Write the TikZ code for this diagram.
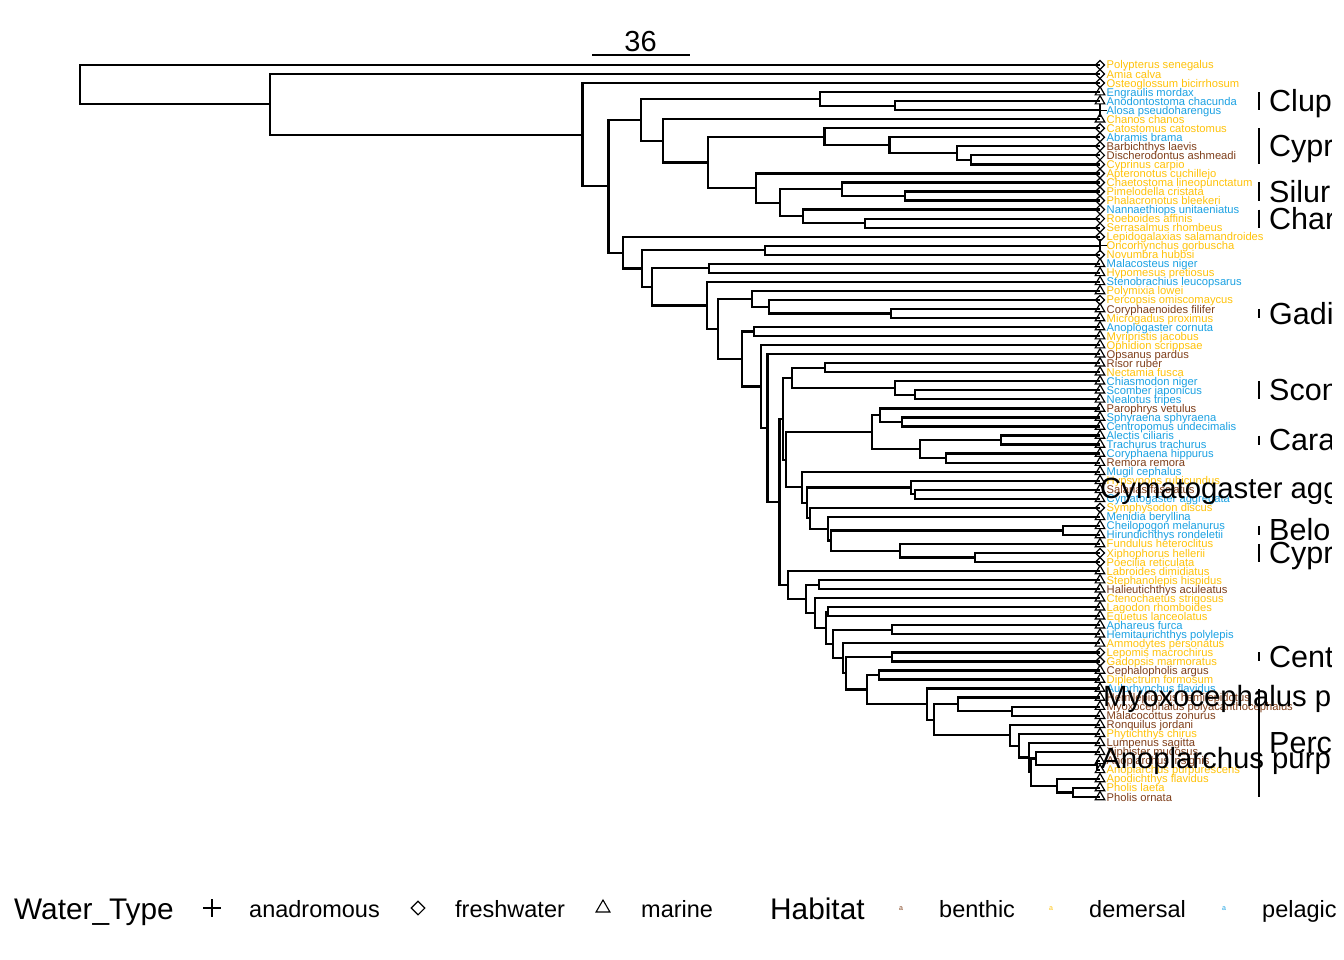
\documentclass[tikz,border=0pt]{standalone}
\usepackage{fontspec}
\setmainfont{Liberation Sans}
\usetikzlibrary{calc,shapes.geometric,shapes.misc}
\definecolor{benthic}{HTML}{7F3F1A}
\definecolor{demersal}{HTML}{FFC20A}
\definecolor{pelagic}{HTML}{1BA1E2}
\newcommand\fsz[1]{\fontsize{#1}{#1}\selectfont}
\newcommand\inode[4]{\path let \p1=($(#3)!0.5!(#4)$) in (#2pt,\y1) coordinate (#1);\draw[branch] (#3) -| (#1) |- (#4);}
\begin{document}
\begin{tikzpicture}[x=1pt,y=-1pt,
  branch/.style={line width=2.2pt, line join=miter},
  tipsym/.style={draw, line width=1.2pt, inner sep=0pt, fill=none},
  mar/.style={tipsym, regular polygon, regular polygon sides=3, minimum size=11pt},
  fw/.style={tipsym, diamond, minimum width=9.5pt, minimum height=9.5pt},
  ana/.style={tipsym, cross out, rotate=45, minimum size=8pt},
  tiplab/.style={anchor=base west, inner sep=0pt, font=\fsz{11.2}},
  bigtxt/.style={anchor=base west, inner sep=0pt, font=\fsz{29.3}},
  cladetxt/.style={anchor=base west, inner sep=0pt, font=\fsz{30.5}},
  cbar/.style={line width=2.6pt},
  legtitle/.style={anchor=base west, inner sep=0pt, font=\fsz{29.8}},
  leglab/.style={anchor=base west, inner sep=0pt, font=\fsz{23.5}},
  legkey/.style={inner sep=0pt, font=\fsz{7}}]
\useasboundingbox (0,0) rectangle (1344,960);
% tips
\foreach \i in {1,...,82} {\coordinate (t\i) at (1100,{65+(\i-1)*9.037});}
% internal nodes
\inode{n56}{895.3}{t5}{t6}
\inode{n46}{820}{t4}{n56}
\inode{n1112}{970.7}{t11}{t12}
\inode{n1012}{956.8}{t10}{n1112}
\inode{n912}{889.4}{t9}{n1012}
\inode{n812}{824.4}{t8}{n912}
\inode{n1516}{904.6}{t15}{t16}
\inode{n1416}{841.7}{t14}{n1516}
\inode{n1819}{864.9}{t18}{t19}
\inode{n1719}{803}{t17}{n1819}
\inode{n1419}{779.8}{n1416}{n1719}
\inode{n1319}{756.3}{t13}{n1419}
\inode{n819}{708}{n812}{n1319}
\inode{n719}{662.7}{t7}{n819}
\inode{n419}{641.2}{n46}{n719}
\inode{n2122}{764.6}{t21}{t22}
\inode{n2324}{709.3}{t23}{t24}
\inode{n2829}{890.7}{t28}{t29}
\inode{n2729}{769.3}{t27}{n2829}
\inode{n2629}{752.3}{t26}{n2729}
\inode{n3031}{754.3}{t30}{t31}
\inode{n3435}{825}{t34}{t35}
\inode{n3738}{915}{t37}{t38}
\inode{n3638}{895}{t36}{n3738}
\inode{n3438}{791.7}{n3435}{n3638}
\inode{n4041}{901.7}{t40}{t41}
\inode{n3941}{880}{t39}{n4041}
\inode{n4243}{1001}{t42}{t43}
\inode{n4445}{946}{t44}{t45}
\inode{n4245}{920}{n4243}{n4445}
\inode{n3945}{871.7}{n3941}{n4245}
\inode{n4849}{915}{t48}{t49}
\inode{n4749}{910.7}{t47}{n4849}
\inode{n5253}{1063.3}{t52}{t53}
\inode{n5556}{975}{t55}{t56}
\inode{n5456}{900}{t54}{n5556}
\inode{n5256}{830.7}{n5253}{n5456}
\inode{n5156}{827.7}{t51}{n5256}
\inode{n5056}{810}{t50}{n5156}
\inode{n4756}{806.7}{n4749}{n5056}
\inode{n4656}{801.7}{t46}{n4756}
\inode{n3956}{786}{n3945}{n4656}
\inode{n3456}{783}{n3438}{n3956}
\inode{n5859}{819.3}{t58}{t59}
\inode{n6162}{828.3}{t61}{t62}
\inode{n6364}{891.7}{t63}{t64}
\inode{n6667}{891.7}{t66}{t67}
\inode{n6869}{879.3}{t68}{t69}
\inode{n7273}{1011.7}{t72}{t73}
\inode{n7173}{957.7}{t71}{n7273}
\inode{n8182}{1072.7}{t81}{t82}
\inode{n8082}{1056.7}{t80}{n8182}
\inode{n7879}{1096.7}{t78}{t79}
\inode{n7779}{1036}{t77}{n7879}
\inode{n7782}{1031}{n7779}{n8082}
\inode{n7682}{1029.3}{t76}{n7782}
\inode{n7582}{1019}{t75}{n7682}
\inode{n7482}{1010}{t74}{n7582}
\inode{n7182}{934.3}{n7173}{n7482}
\inode{n7082}{926.7}{t70}{n7182}
\inode{n6882}{866.7}{n6869}{n7082}
\inode{n6682}{845.7}{n6667}{n6882}
\inode{n6582}{842.7}{t65}{n6682}
\inode{n6382}{833.3}{n6364}{n6582}
\inode{n6182}{826}{n6162}{n6382}
\inode{n6082}{815}{t60}{n6182}
\inode{n5882}{806}{n5859}{n6082}
\inode{n5782}{788.3}{t57}{n5882}
\inode{n3482}{779.5}{n3456}{n5782}
\inode{n3382}{767.5}{t33}{n3482}
\inode{n3282}{761}{t32}{n3382}
\inode{n3082}{741.7}{n3031}{n3282}
\inode{n2682}{718.3}{n2629}{n3082}
\inode{n2582}{706.7}{t25}{n2682}
\inode{n2382}{651.7}{n2324}{n2582}
\inode{n2182}{641.7}{n2122}{n2382}
\inode{n2082}{623.3}{t20}{n2182}
\inode{n482}{608.4}{n419}{n2082}
\inode{n382}{582.5}{t3}{n482}
\inode{n282}{270}{t2}{n382}
\inode{root}{80}{t1}{n282}
% tip symbols and labels
\foreach \i/\nm/\c/\w in {
1/Polypterus senegalus/demersal/fw,
2/Amia calva/demersal/fw,
3/Osteoglossum bicirrhosum/demersal/fw,
4/Engraulis mordax/pelagic/mar,
5/Anodontostoma chacunda/pelagic/mar,
6/Alosa pseudoharengus/pelagic/ana,
7/Chanos chanos/demersal/mar,
8/Catostomus catostomus/demersal/fw,
9/Abramis brama/pelagic/fw,
10/Barbichthys laevis/benthic/fw,
11/Discherodontus ashmeadi/benthic/fw,
12/Cyprinus carpio/demersal/fw,
13/Apteronotus cuchillejo/demersal/fw,
14/Chaetostoma lineopunctatum/demersal/fw,
15/Pimelodella cristata/demersal/fw,
16/Phalacronotus bleekeri/demersal/fw,
17/Nannaethiops unitaeniatus/pelagic/fw,
18/Roeboides affinis/demersal/fw,
19/Serrasalmus rhombeus/demersal/fw,
20/Lepidogalaxias salamandroides/demersal/fw,
21/Oncorhynchus gorbuscha/demersal/ana,
22/Novumbra hubbsi/demersal/fw,
23/Malacosteus niger/pelagic/mar,
24/Hypomesus pretiosus/demersal/mar,
25/Stenobrachius leucopsarus/pelagic/mar,
26/Polymixia lowei/demersal/mar,
27/Percopsis omiscomaycus/demersal/fw,
28/Coryphaenoides filifer/benthic/mar,
29/Microgadus proximus/demersal/mar,
30/Anoplogaster cornuta/pelagic/mar,
31/Myripristis jacobus/demersal/mar,
32/Ophidion scrippsae/demersal/mar,
33/Opsanus pardus/benthic/mar,
34/Risor ruber/benthic/mar,
35/Nectamia fusca/demersal/mar,
36/Chiasmodon niger/pelagic/mar,
37/Scomber japonicus/pelagic/mar,
38/Nealotus tripes/pelagic/mar,
39/Parophrys vetulus/benthic/mar,
40/Sphyraena sphyraena/pelagic/mar,
41/Centropomus undecimalis/pelagic/mar,
42/Alectis ciliaris/pelagic/mar,
43/Trachurus trachurus/pelagic/mar,
44/Coryphaena hippurus/pelagic/mar,
45/Remora remora/benthic/mar,
46/Mugil cephalus/pelagic/mar,
47/Hypsypops rubicundus/demersal/mar,
48/Salarias fasciatus/benthic/mar,
49/Cymatogaster aggregata/pelagic/mar,
50/Symphysodon discus/demersal/fw,
51/Menidia beryllina/pelagic/mar,
52/Cheilopogon melanurus/pelagic/mar,
53/Hirundichthys rondeletii/pelagic/mar,
54/Fundulus heteroclitus/demersal/mar,
55/Xiphophorus hellerii/demersal/fw,
56/Poecilia reticulata/demersal/fw,
57/Labroides dimidiatus/demersal/mar,
58/Stephanolepis hispidus/demersal/mar,
59/Halieutichthys aculeatus/benthic/mar,
60/Ctenochaetus strigosus/demersal/mar,
61/Lagodon rhomboides/demersal/mar,
62/Equetus lanceolatus/demersal/mar,
63/Aphareus furca/pelagic/mar,
64/Hemitaurichthys polylepis/pelagic/mar,
65/Ammodytes personatus/demersal/mar,
66/Lepomis macrochirus/demersal/fw,
67/Gadopsis marmoratus/demersal/fw,
68/Cephalopholis argus/benthic/mar,
69/Diplectrum formosum/demersal/mar,
70/Aulorhynchus flavidus/pelagic/mar,
71/Hemilepidotus hemilepidotus/benthic/mar,
72/Myoxocephalus polyacanthocephalus/benthic/mar,
73/Malacocottus zonurus/benthic/mar,
74/Ronquilus jordani/benthic/mar,
75/Phytichthys chirus/demersal/mar,
76/Lumpenus sagitta/benthic/mar,
77/Xiphister mucosus/benthic/mar,
78/Anoplarchus insignis/benthic/mar,
79/Anoplarchus purpurescens/demersal/mar,
80/Apodichthys flavidus/demersal/mar,
81/Pholis laeta/demersal/mar,
82/Pholis ornata/benthic/mar} {
  \node[\w] (s\i) at (t\i) {};
  \node[tiplab, text=\c] (l\i) at ($(t\i)+(6.5,4)$) {\nm};
}
% clipped labels
\begin{scope}
\clip (0,0) rectangle (1331,960);
\node[bigtxt] (b49) at ($(t49)+(0,0)$) {Cymatogaster aggregata};
\node[bigtxt] (b72) at ($(t72)+(3,0)$) {Myoxocephalus polyacanthocephalus};
\node[bigtxt] (b79) at ($(t79)+(1,-1)$) {Anoplarchus purpurescens};
\foreach \a/\b/\txt in {4/6/Clupeiformes, 8/12/Cypriniformes, 14/16/Siluriformes, 17/19/Characiformes,
  28/29/Gadiformes, 36/38/Scombriformes, 42/43/Carangiformes, 52/53/Beloniformes,
  54/56/Cyprinodontiformes, 66/67/Centrarchiformes, 70/82/Perciformes} {
  \draw[cbar] ($(t\a)+(159,0)$) coordinate (ca\a) -- ($(t\b)+(159,0)$) coordinate (cb\a);
  \node[cladetxt] (c\a) at ($(ca\a)!0.5!(cb\a)+(10,10.5)$) {\txt};
}
\end{scope}
% scale bar
\coordinate (sb1) at (592,55);
\coordinate (sb2) at (690,55);
\draw[branch] (sb1) -- (sb2);
\node[anchor=base, inner sep=0pt, font=\fsz{29}] (sbl) at (640.5,52) {36};
% legend
\node[legtitle] (lg1) at (14,919) {Water\_Type};
\node[tipsym, cross out, rotate=45, minimum size=11pt, line width=1.1pt] (k1) at (212,908) {};
\node[leglab] (lk1) at (249,917) {anadromous};
\node[tipsym, diamond, minimum width=14pt, minimum height=14pt, line width=1.1pt] (k2) at (418,908) {};
\node[leglab] (lk2) at (455,917) {freshwater};
\node[tipsym, regular polygon, regular polygon sides=3, minimum size=16pt, line width=1.1pt] (k3) at (603,908) {};
\node[leglab] (lk3) at (641,917) {marine};
\node[legtitle] (lg2) at (770,919) {Habitat};
\node[legkey, text=benthic] (h1) at (901,909) {a};
\node[leglab] (lh1) at (939,917) {benthic};
\node[legkey, text=demersal] (h2) at (1051,909) {a};
\node[leglab] (lh2) at (1089,917) {demersal};
\node[legkey, text=pelagic] (h3) at (1224,909) {a};
\node[leglab] (lh3) at (1262,917) {pelagic};
\end{tikzpicture}
\end{document}
